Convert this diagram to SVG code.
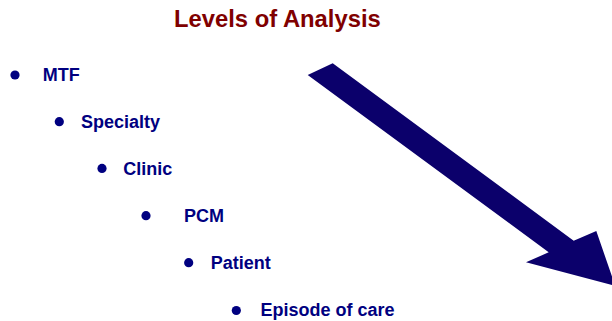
<svg xmlns="http://www.w3.org/2000/svg" width="612" height="321" viewBox="0 0 612 321">
  <style>
    .title { font-family: "Liberation Sans", Arial, sans-serif; font-weight: bold; font-size: 23.8px; fill: #800000; }
    .item { font-family: "Liberation Sans", Arial, sans-serif; font-weight: bold; font-size: 18px; fill: #000080; }
    .dot { fill: #000080; }
    .arrow { fill: #0B006B; }
  </style>
  <rect width="612" height="321" fill="#ffffff"/>

  <text class="title" x="174" y="27.3">Levels of Analysis</text>

  <g id="mtf">
    <circle class="dot" cx="15" cy="75" r="4.6"/>
    <text class="item" x="42.7" y="81">MTF</text>
  </g>
  <g id="specialty">
    <circle class="dot" cx="59.3" cy="121.7" r="4.6"/>
    <text class="item" x="81" y="127.8">Specialty</text>
  </g>
  <g id="clinic">
    <circle class="dot" cx="102" cy="168.4" r="4.6"/>
    <text class="item" x="123.3" y="174.8">Clinic</text>
  </g>
  <g id="pcm">
    <circle class="dot" cx="146" cy="215.7" r="4.6"/>
    <text class="item" x="184" y="222">PCM</text>
  </g>
  <g id="patient">
    <circle class="dot" cx="188.7" cy="262.7" r="4.6"/>
    <text class="item" x="210.7" y="268.9">Patient</text>
  </g>
  <g id="episode">
    <circle class="dot" cx="236.3" cy="310.5" r="4.6"/>
    <text class="item" x="260.5" y="315.6">Episode of care</text>
  </g>

  <g id="connectors">
    <!-- block arrow running down to the right -->
    <polygon class="arrow" points="307.7,75 332.7,63.3 573.7,240.7 596.3,231 615.2,285.8 526,262.3 548.7,252.3"/>
  </g>
</svg>
